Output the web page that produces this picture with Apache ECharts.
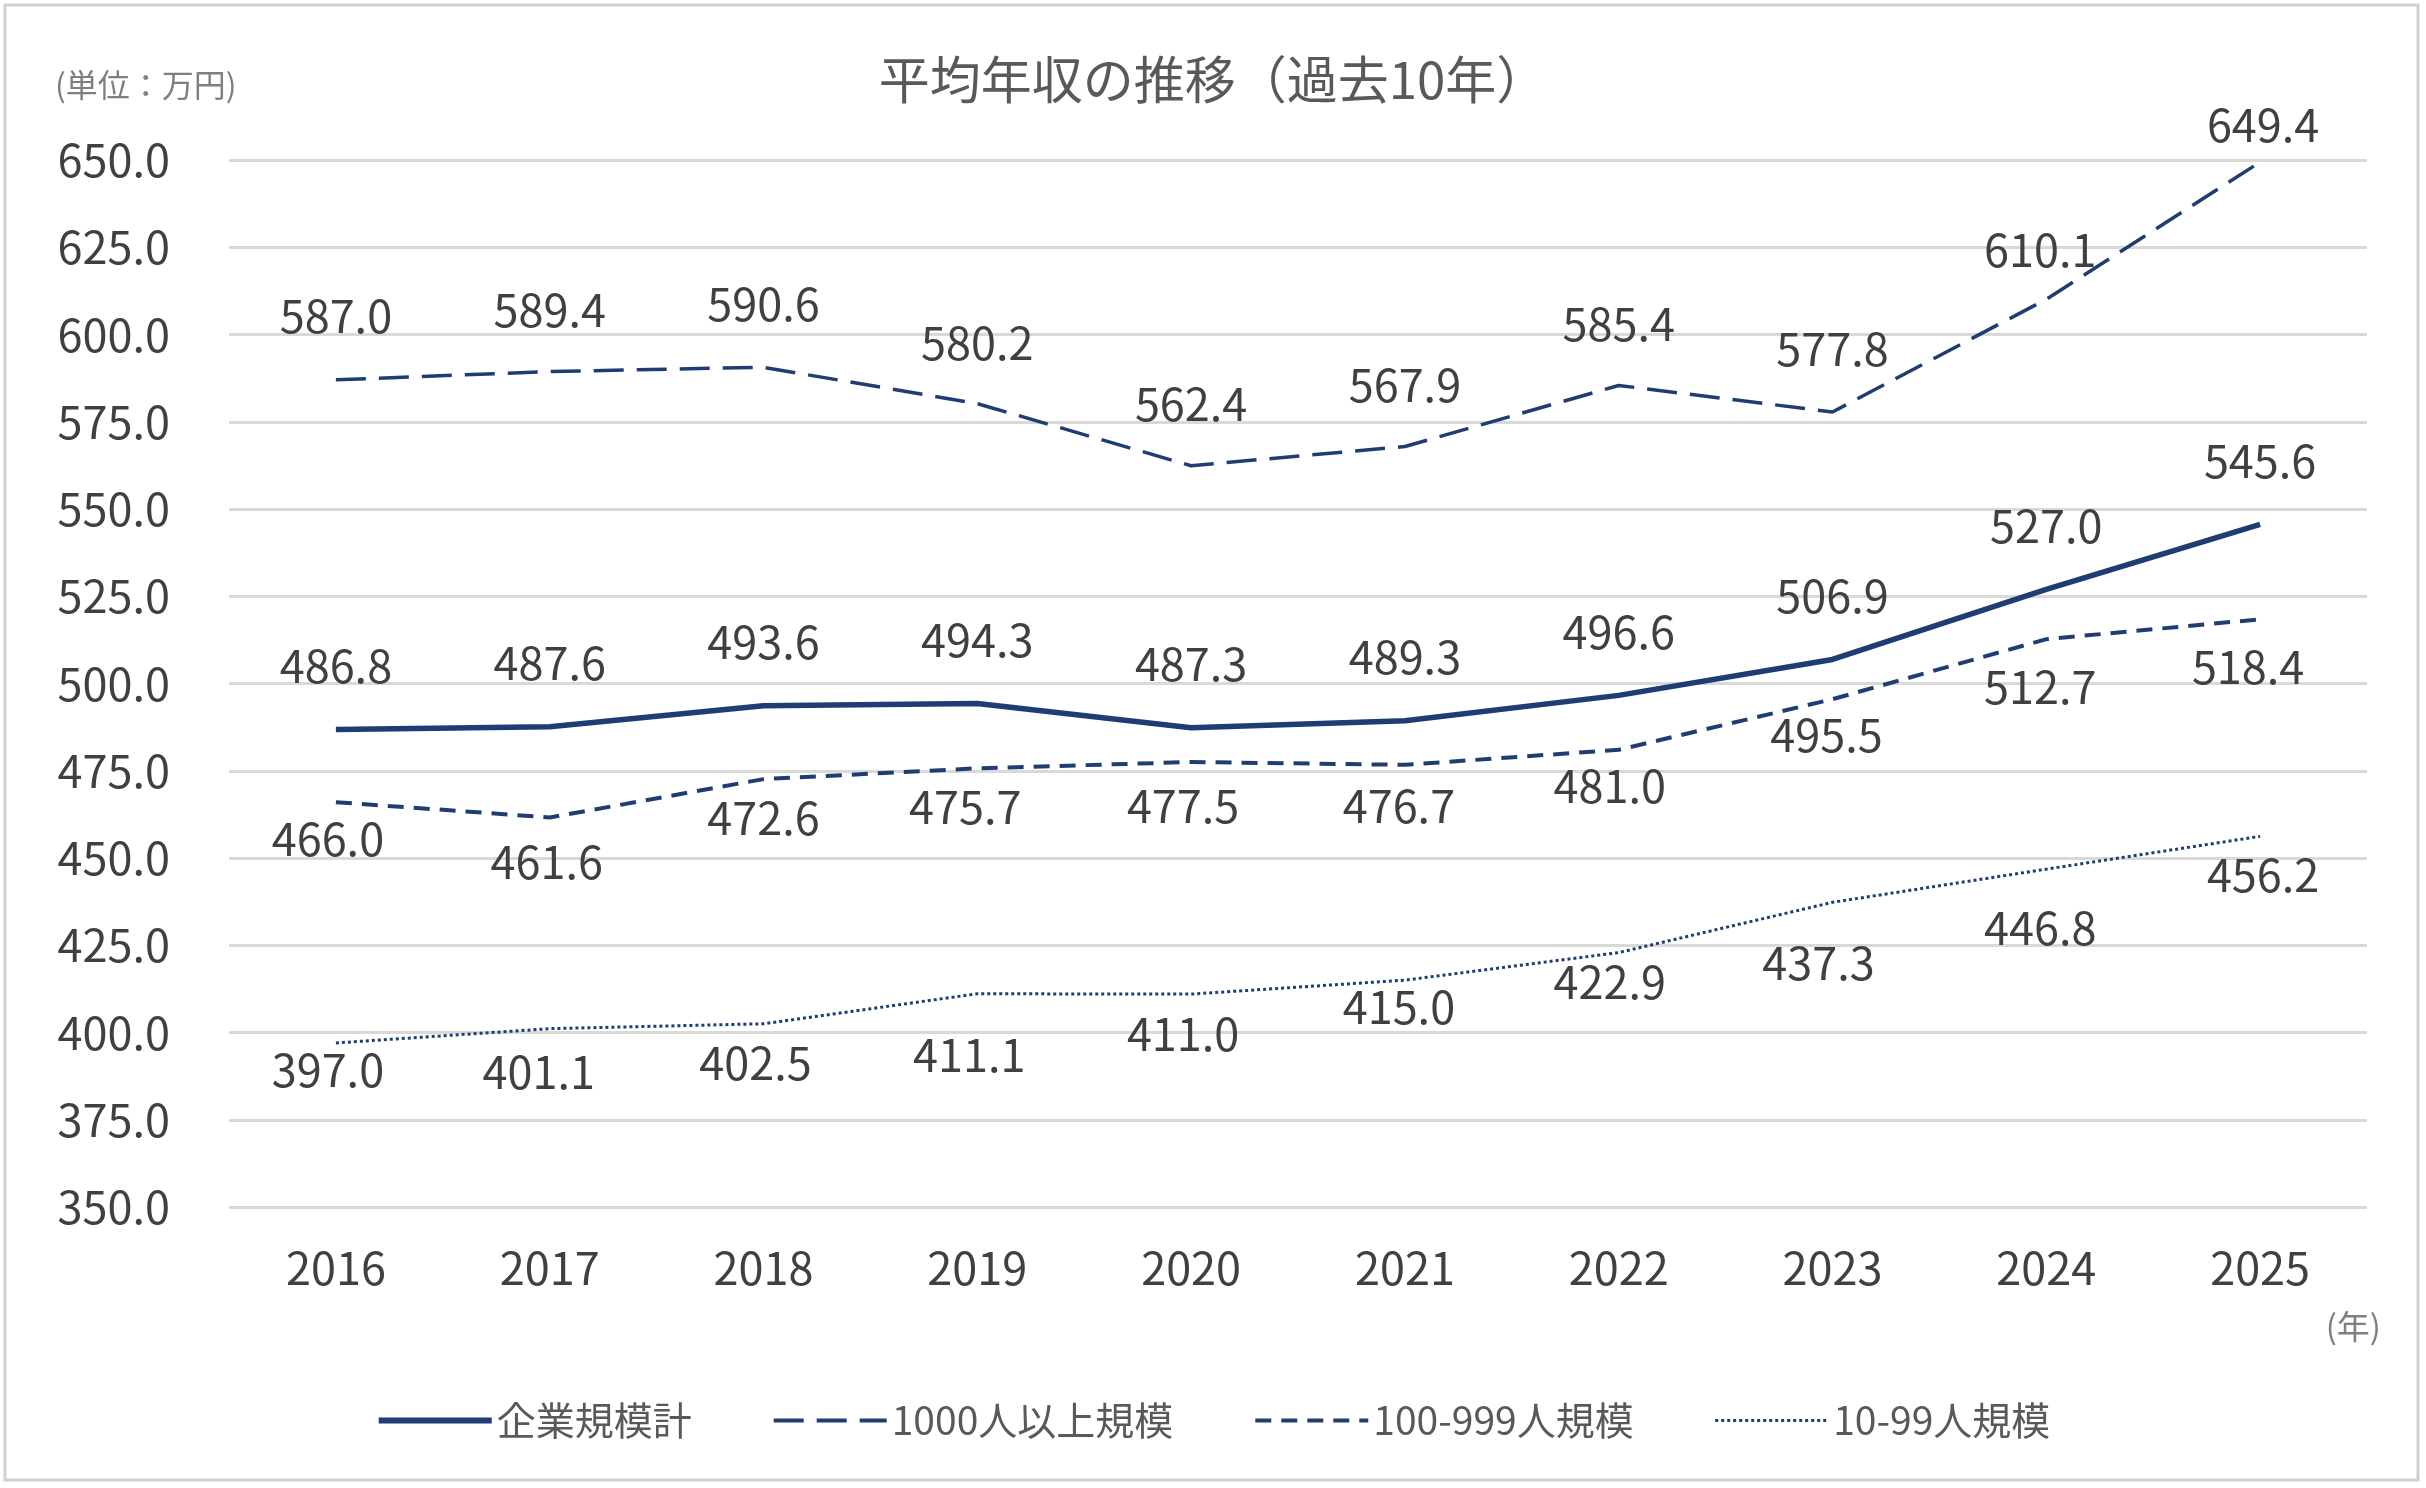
<!DOCTYPE html>
<html lang="ja">
<head>
<meta charset="utf-8">
<title>平均年収の推移（過去10年）</title>
<script src="https://cdn.jsdelivr.net/npm/echarts@6/dist/echarts.min.js"></script>
<style>
  html, body { margin: 0; padding: 0; background: #fff; }
  #chart { width: 2426px; height: 1488px; }
</style>
</head>
<body>
<div id="chart"></div>
<script>
// 横軸（年）
const years = ['2016', '2017', '2018', '2019', '2020', '2021', '2022', '2023', '2024', '2025'];

// 平均年収（単位：万円）
const totalAll = [486.8, 487.6, 493.6, 494.3, 487.3, 489.3, 496.6, 506.9, 527.0, 545.6];
const over1000 = [587.0, 589.4, 590.6, 580.2, 562.4, 567.9, 585.4, 577.8, 610.1, 649.4];
const mid100 = [466.0, 461.6, 472.6, 475.7, 477.5, 476.7, 481.0, 495.5, 512.7, 518.4];
const small10 = [397.0, 401.1, 402.5, 411.1, 411.0, 415.0, 422.9, 437.3, 446.8, 456.2];

const seriesNames = ['企業規模計', '1000人以上規模', '100-999人規模', '10-99人規模'];

// 縦軸の目盛
const yMin = 350;
const yMax = 650;
const yStep = 25;

// データラベルの微調整（元図で手動で動かされている分, px）
const nudgeOver1000 = [[0, 0], [0, 2], [0, 0], [0, 3], [0, 2], [0, 2], [0, 2], [0, 0], [-6, 14], [3, 26]];
const nudgeMid100 = [[-8, -5], [-3, 3], [0, -3], [-12, -3], [-8, 2], [-6, 0], [-9, -5], [-6, -6], [-6, 6], [-12, 6]];
const nudgeSmall10 = [[-8, -15], [-11, 2], [-8, -2], [-8, 20], [-8, -2], [-6, -15], [-9, -12], [-14, 19], [-6, 17], [3, -3]];

const navy = '#1F3D73';
const font = "'Noto Sans CJK JP', 'Noto Sans', sans-serif";

// 系列を作る
const makeLine = (name, values, nudge, lineStyle, labelPos, labelDist) => ({
    name: name,
    type: 'line',
    data: values.map((v, i) => ({
        value: v,
        label: nudge ? { offset: nudge[i] } : undefined
    })),
    symbol: 'circle',
    symbolSize: 2,
    itemStyle: { color: 'rgba(0,0,0,0)', borderWidth: 0 },
    lineStyle: Object.assign({ color: navy, cap: 'butt' }, lineStyle),
    label: {
        show: true,
        position: labelPos,
        distance: labelDist,
        formatter: (p) => Number(p.value).toFixed(1),
        color: '#404040',
        fontSize: 45,
        fontFamily: font
    },
    emphasis: { disabled: true }
});

const chart = echarts.init(document.getElementById('chart'));

chart.setOption({
    animation: false,
    backgroundColor: '#fff',
    grid: { left: 229, right: 59, top: 160, bottom: 281, outerBoundsMode: 'none' },
    xAxis: {
        type: 'category',
        data: years,
        boundaryGap: true,
        axisLine: { show: false },
        axisTick: { show: false },
        axisLabel: { color: '#404040', fontSize: 45, fontFamily: font, margin: 38 }
    },
    yAxis: {
        type: 'value',
        min: yMin,
        max: yMax,
        interval: yStep,
        axisLine: { show: false },
        axisTick: { show: false },
        axisLabel: {
            color: '#404040',
            fontSize: 45,
            fontFamily: font,
            margin: 59,
            formatter: (v) => v.toFixed(1)
        },
        splitLine: { lineStyle: { color: '#D9D9D9', width: 3 } }
    },
    legend: {
        data: [
            { name: seriesNames[0], lineStyle: { width: 6 } },
            { name: seriesNames[1], lineStyle: { width: 4 } },
            { name: seriesNames[2], lineStyle: { width: 4 } },
            { name: seriesNames[3], lineStyle: { width: 3 } }
        ],
        left: 'center',
        top: 1396,
        itemWidth: 113,
        itemHeight: 20,
        itemGap: 80,
        itemStyle: { color: 'rgba(0,0,0,0)', borderWidth: 0 },
        textStyle: { fontSize: 39, color: '#595959', fontFamily: font }
    },
    graphic: [
        {
            type: 'rect',
            shape: { x: 5, y: 5, width: 2413, height: 1475 },
            style: { fill: 'none', stroke: '#D0D0D0', lineWidth: 3 },
            silent: true
        },
        {
            type: 'text',
            x: 1213, y: 80,
            style: {
                text: '平均年収の推移（過去10年）',
                fill: '#595959', font: '51px ' + font,
                textAlign: 'center', textVerticalAlign: 'middle'
            }
        },
        {
            type: 'text',
            x: 55, y: 85,
            style: {
                text: '(単位：万円)',
                fill: '#7F7F7F', font: '32px ' + font,
                textAlign: 'left', textVerticalAlign: 'middle'
            }
        },
        {
            type: 'text',
            x: 2381, y: 1326,
            style: {
                text: '(年)',
                fill: '#7F7F7F', font: '33px ' + font,
                textAlign: 'right', textVerticalAlign: 'middle'
            }
        }
    ],
    series: [
        makeLine(seriesNames[0], totalAll, null, { width: 5.5, type: 'solid' }, 'top', 40),
        makeLine(seriesNames[1], over1000, nudgeOver1000, { width: 3.5, type: [30, 13] }, 'top', 40),
        makeLine(seriesNames[2], mid100, nudgeMid100, { width: 4, type: [16, 10] }, 'bottom', 18),
        makeLine(seriesNames[3], small10, nudgeSmall10, { width: 3, type: [3, 3] }, 'bottom', 18)
    ]
});
</script>
</body>
</html>
